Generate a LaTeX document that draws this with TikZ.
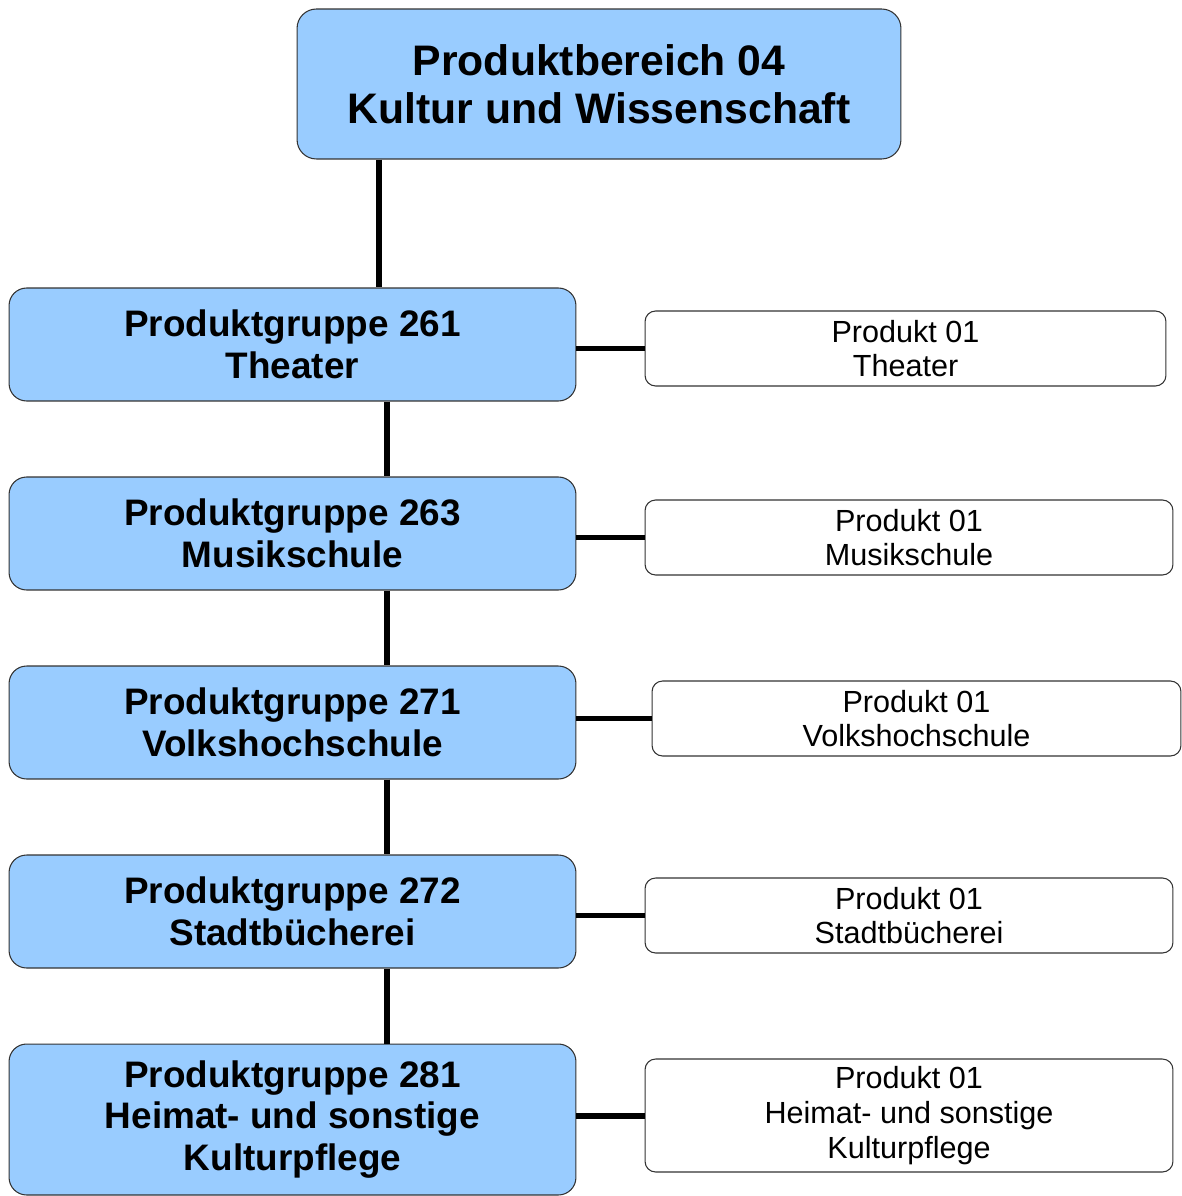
\documentclass[tikz,border=0pt]{standalone}
\usepackage{fontspec}
\setmainfont{Liberation Sans}
\usepackage{tikz}
\usetikzlibrary{positioning}
\definecolor{boxblue}{HTML}{99CCFF}
\definecolor{boxline}{HTML}{333333}
\tikzstyle{area node}=[draw=boxline, line width=0.6pt, fill=boxblue, rounded corners=11pt, inner sep=0pt, align=center, font=\fontsize{24.3}{27.2}\selectfont\bfseries]
\tikzstyle{group node}=[draw=boxline, line width=0.6pt, fill=boxblue, rounded corners=10pt, inner sep=0pt, minimum width=11.34cm, align=center, font=\fontsize{21}{23.8}\selectfont\bfseries]
\tikzstyle{product node}=[draw=boxline, line width=0.6pt, fill=white, rounded corners=6pt, inner sep=0pt, minimum height=1.5cm, align=center, font=\fontsize{17.4}{19.8}\selectfont]
\tikzstyle{link}=[line width=3.4pt, black]

\begin{document}
\begin{tikzpicture}[x=0.02cm, y=-0.02cm]

  \useasboundingbox (0,0) rectangle (1181,1196);

  \node[area node, minimum width=12.08cm, minimum height=3cm] (04) at (599,84) {Produktbereich 04\\Kultur und Wissenschaft};

  \node[group node, minimum height=2.26cm] (261) at (292.5,344.5) {Produktgruppe 261\\Theater};
  \node[group node, minimum height=2.26cm] (263) at (292.5,533.5) {Produktgruppe 263\\Musikschule};
  \node[group node, minimum height=2.26cm] (271) at (292.5,722.5) {Produktgruppe 271\\Volkshochschule};
  \node[group node, minimum height=2.26cm] (272) at (292.5,911.5) {Produktgruppe 272\\Stadtb\"ucherei};
  \node[group node, minimum height=3.02cm] (281) at (292.5,1119.5) {Produktgruppe 281\\Heimat- und sonstige\\Kulturpflege};

  \node[product node, minimum width=10.42cm] (261p) at (905.5,348.5) {Produkt 01\\Theater};
  \node[product node, minimum width=10.56cm] (263p) at (909,537.5) {Produkt 01\\Musikschule};
  \node[product node, minimum width=10.58cm] (271p) at (916.5,718.5) {Produkt 01\\Volkshochschule};
  \node[product node, minimum width=10.56cm] (272p) at (909,915.5) {Produkt 01\\Stadtb\"ucherei};
  \node[product node, minimum width=10.56cm, minimum height=2.26cm] (281p) at (909,1115.5) {Produkt 01\\Heimat- und sonstige\\Kulturpflege};

  % vertical lines
  \coordinate (trunk) at (379,0);
  \coordinate (spine) at (387,0);

  \draw[link] (04.south -| trunk) -- (261.north -| trunk);
  \draw[link] (261.south -| spine) -- (263.north -| spine);
  \draw[link] (263.south -| spine) -- (271.north -| spine);
  \draw[link] (271.south -| spine) -- (272.north -| spine);
  \draw[link] (272.south -| spine) -- (281.north -| spine);

  % horizontal lines
  \draw[link] (261p.west -| 261.east) -- (261p.west);
  \draw[link] (263p.west -| 263.east) -- (263p.west);
  \draw[link] (271p.west -| 271.east) -- (271p.west);
  \draw[link] (272p.west -| 272.east) -- (272p.west);
  \draw[link] (281p.west -| 281.east) -- (281p.west);

\end{tikzpicture}
\end{document}
